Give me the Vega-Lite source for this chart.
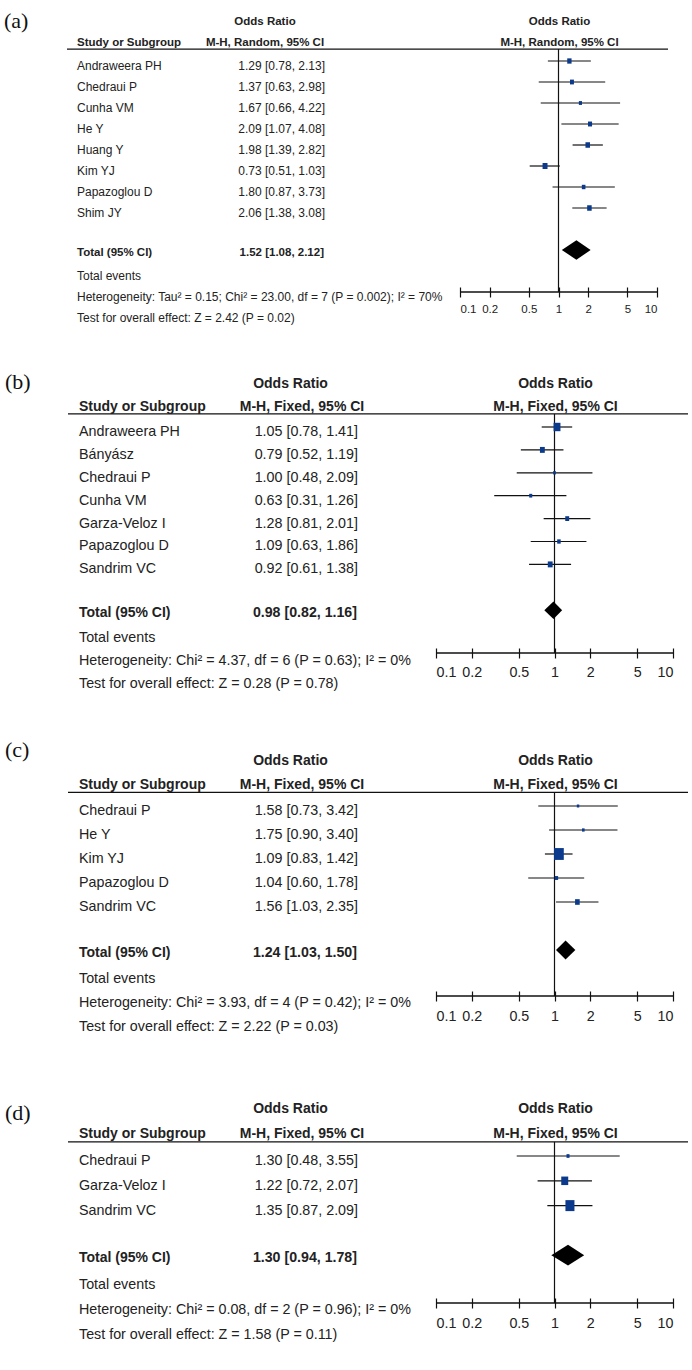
{
"$schema": "https://vega.github.io/schema/vega-lite/v6.json",
"background": "white",
"padding": 0,
"spacing": 0,
"bounds": "flush",
"config": {"view": {"stroke": null}},
"datasets": {
"a": [
{"kind":"panel","line":-2,"name":"(a)"},
{"kind":"header","line":-2,"label":"Odds Ratio","plot":"Odds Ratio"},
{"kind":"header","line":-1,"name":"Study or Subgroup","label":"M-H, Random, 95% CI","plot":"M-H, Random, 95% CI"},
{"kind":"study","line":0,"name":"Andraweera PH","or":1.29,"lo":0.78,"hi":2.13,"weight":13.5,"label":"1.29 [0.78, 2.13]"},
{"kind":"study","line":1,"name":"Chedraui P","or":1.37,"lo":0.63,"hi":2.98,"weight":11.2,"label":"1.37 [0.63, 2.98]"},
{"kind":"study","line":2,"name":"Cunha VM","or":1.67,"lo":0.66,"hi":4.22,"weight":7.1,"label":"1.67 [0.66, 4.22]"},
{"kind":"study","line":3,"name":"He Y","or":2.09,"lo":1.07,"hi":4.08,"weight":11.8,"label":"2.09 [1.07, 4.08]"},
{"kind":"study","line":4,"name":"Huang Y","or":1.98,"lo":1.39,"hi":2.82,"weight":14.7,"label":"1.98 [1.39, 2.82]"},
{"kind":"study","line":5,"name":"Kim YJ","or":0.73,"lo":0.51,"hi":1.03,"weight":17.6,"label":"0.73 [0.51, 1.03]"},
{"kind":"study","line":6,"name":"Papazoglou D","or":1.80,"lo":0.87,"hi":3.73,"weight":9.4,"label":"1.80 [0.87, 3.73]"},
{"kind":"study","line":7,"name":"Shim JY","or":2.06,"lo":1.38,"hi":3.08,"weight":14.7,"label":"2.06 [1.38, 3.08]"},
{"kind":"total","line":9,"name":"Total (95% CI)","or":1.52,"lo":1.08,"hi":2.12,"label":"1.52 [1.08, 2.12]"},
{"kind":"note","line":10,"name":"Total events"},
{"kind":"note","line":11,"name":"Heterogeneity: Tau² = 0.15; Chi² = 23.00, df = 7 (P = 0.002); I² = 70%"},
{"kind":"note","line":12,"name":"Test for overall effect: Z = 2.42 (P = 0.02)"}
],
"ad": [
{"or":1.08,"top":9,"bottom":9},
{"or":1.52,"top":8.536,"bottom":9.464},
{"or":2.12,"top":9,"bottom":9}
],
"b": [
{"kind":"panel","line":-2,"name":"(b)"},
{"kind":"header","line":-2,"label":"Odds Ratio","plot":"Odds Ratio"},
{"kind":"header","line":-1,"name":"Study or Subgroup","label":"M-H, Fixed, 95% CI","plot":"M-H, Fixed, 95% CI"},
{"kind":"study","line":0,"name":"Andraweera PH","or":1.05,"lo":0.78,"hi":1.41,"weight":34.2,"label":"1.05 [0.78, 1.41]"},
{"kind":"study","line":1,"name":"Bányász","or":0.79,"lo":0.52,"hi":1.19,"weight":16.9,"label":"0.79 [0.52, 1.19]"},
{"kind":"study","line":2,"name":"Chedraui P","or":1.00,"lo":0.48,"hi":2.09,"weight":5.3,"label":"1.00 [0.48, 2.09]"},
{"kind":"study","line":3,"name":"Cunha VM","or":0.63,"lo":0.31,"hi":1.26,"weight":6.7,"label":"0.63 [0.31, 1.26]"},
{"kind":"study","line":4,"name":"Garza-Veloz I","or":1.28,"lo":0.81,"hi":2.01,"weight":11.1,"label":"1.28 [0.81, 2.01]"},
{"kind":"study","line":5,"name":"Papazoglou D","or":1.09,"lo":0.63,"hi":1.86,"weight":8.9,"label":"1.09 [0.63, 1.86]"},
{"kind":"study","line":6,"name":"Sandrim VC","or":0.92,"lo":0.61,"hi":1.38,"weight":16.9,"label":"0.92 [0.61, 1.38]"},
{"kind":"total","line":8,"name":"Total (95% CI)","or":0.98,"lo":0.82,"hi":1.16,"label":"0.98 [0.82, 1.16]"},
{"kind":"note","line":9,"name":"Total events"},
{"kind":"note","line":10,"name":"Heterogeneity: Chi² = 4.37, df = 6 (P = 0.63); I² = 0%"},
{"kind":"note","line":11,"name":"Test for overall effect: Z = 0.28 (P = 0.78)"}
],
"bd": [
{"or":0.82,"top":8,"bottom":8},
{"or":0.98,"top":7.62,"bottom":8.38},
{"or":1.16,"top":8,"bottom":8}
],
"c": [
{"kind":"panel","line":-2,"name":"(c)"},
{"kind":"header","line":-2,"label":"Odds Ratio","plot":"Odds Ratio"},
{"kind":"header","line":-1,"name":"Study or Subgroup","label":"M-H, Fixed, 95% CI","plot":"M-H, Fixed, 95% CI"},
{"kind":"study","line":0,"name":"Chedraui P","or":1.58,"lo":0.73,"hi":3.42,"weight":4.3,"label":"1.58 [0.73, 3.42]"},
{"kind":"study","line":1,"name":"He Y","or":1.75,"lo":0.90,"hi":3.40,"weight":5.0,"label":"1.75 [0.90, 3.40]"},
{"kind":"study","line":2,"name":"Kim YJ","or":1.09,"lo":0.83,"hi":1.42,"weight":67.9,"label":"1.09 [0.83, 1.42]"},
{"kind":"study","line":3,"name":"Papazoglou D","or":1.04,"lo":0.60,"hi":1.78,"weight":7.4,"label":"1.04 [0.60, 1.78]"},
{"kind":"study","line":4,"name":"Sandrim VC","or":1.56,"lo":1.03,"hi":2.35,"weight":15.4,"label":"1.56 [1.03, 2.35]"},
{"kind":"total","line":6,"name":"Total (95% CI)","or":1.24,"lo":1.03,"hi":1.50,"label":"1.24 [1.03, 1.50]"},
{"kind":"note","line":7,"name":"Total events"},
{"kind":"note","line":8,"name":"Heterogeneity: Chi² = 3.93, df = 4 (P = 0.42); I² = 0%"},
{"kind":"note","line":9,"name":"Test for overall effect: Z = 2.22 (P = 0.03)"}
],
"cd": [
{"or":1.03,"top":6,"bottom":6},
{"or":1.24,"top":5.604,"bottom":6.396},
{"or":1.50,"top":6,"bottom":6}
],
"d": [
{"kind":"panel","line":-2,"name":"(d)"},
{"kind":"header","line":-2,"label":"Odds Ratio","plot":"Odds Ratio"},
{"kind":"header","line":-1,"name":"Study or Subgroup","label":"M-H, Fixed, 95% CI","plot":"M-H, Fixed, 95% CI"},
{"kind":"study","line":0,"name":"Chedraui P","or":1.30,"lo":0.48,"hi":3.55,"weight":6.5,"label":"1.30 [0.48, 3.55]"},
{"kind":"study","line":1,"name":"Garza-Veloz I","or":1.22,"lo":0.72,"hi":2.07,"weight":35.0,"label":"1.22 [0.72, 2.07]"},
{"kind":"study","line":2,"name":"Sandrim VC","or":1.35,"lo":0.87,"hi":2.09,"weight":58.5,"label":"1.35 [0.87, 2.09]"},
{"kind":"total","line":4,"name":"Total (95% CI)","or":1.30,"lo":0.94,"hi":1.78,"label":"1.30 [0.94, 1.78]"},
{"kind":"note","line":5,"name":"Total events"},
{"kind":"note","line":6,"name":"Heterogeneity: Chi² = 0.08, df = 2 (P = 0.96); I² = 0%"},
{"kind":"note","line":7,"name":"Test for overall effect: Z = 1.58 (P = 0.11)"}
],
"dd": [
{"or":0.94,"top":4,"bottom":4},
{"or":1.30,"top":3.583,"bottom":4.417},
{"or":1.78,"top":4,"bottom":4}
]
},
"vconcat": [
{
"width": 692, "height": 292,
"data": {"name": "a"},
"layer": [
{"transform": [{"filter": "datum.kind == 'header' && datum.line == -1"}],
 "mark": {"type": "rule", "color": "#111", "strokeWidth": 1.3},
 "encoding": {"x": {"value": 67}, "x2": {"value": 668},
  "y": {"datum": -0.57, "type": "quantitative", "scale": {"domain": [-2.905, 11], "reverse": true, "nice": false, "zero": false}, "axis": null}}},
{"transform": [{"filter": "datum.kind == 'header' && datum.line == -1"}],
 "mark": {"type": "rule", "color": "#111", "strokeWidth": 1.2},
 "encoding": {"x": {"datum": 1, "type": "quantitative", "scale": {"type": "log", "domain": [0.1, 10], "range": [460, 657], "nice": false},
   "axis": {"values": [0.1, 0.2, 0.5, 1, 2, 5, 10], "format": "~g", "title": null, "domain": false, "grid": false, "tickSize": 10, "tickWidth": 1.2, "tickColor": "#111", "offset": -5, "labelFlush": true, "labelOverlap": false, "labelFont": "Liberation Sans", "labelFontSize": 11.5, "labelColor": "#222", "labelPadding": 6}},
  "y": {"datum": -0.57, "type": "quantitative", "scale": {"domain": [-2.905, 11], "reverse": true, "nice": false, "zero": false}, "axis": null},
  "y2": {"datum": 11}}},
{"transform": [{"filter": "datum.kind == 'header' && datum.line == -1"}],
 "mark": {"type": "rule", "color": "#111", "strokeWidth": 1.3},
 "encoding": {"x": {"datum": 0.1, "type": "quantitative", "scale": {"type": "log", "domain": [0.1, 10], "range": [460, 657], "nice": false},
   "axis": {"values": [0.1, 0.2, 0.5, 1, 2, 5, 10], "format": "~g", "title": null, "domain": false, "grid": false, "tickSize": 10, "tickWidth": 1.2, "tickColor": "#111", "offset": -5, "labelFlush": true, "labelOverlap": false, "labelFont": "Liberation Sans", "labelFontSize": 11.5, "labelColor": "#222", "labelPadding": 6}},
  "x2": {"datum": 10},
  "y": {"datum": 11, "type": "quantitative", "scale": {"domain": [-2.905, 11], "reverse": true, "nice": false, "zero": false}, "axis": null}}},
{"transform": [{"filter": "datum.kind == 'study'"}],
 "mark": {"type": "rule", "color": "#111", "strokeWidth": 1.2},
 "encoding": {"x": {"field": "lo", "type": "quantitative", "scale": {"type": "log", "domain": [0.1, 10], "range": [460, 657], "nice": false},
   "axis": {"values": [0.1, 0.2, 0.5, 1, 2, 5, 10], "format": "~g", "title": null, "domain": false, "grid": false, "tickSize": 10, "tickWidth": 1.2, "tickColor": "#111", "offset": -5, "labelFlush": true, "labelOverlap": false, "labelFont": "Liberation Sans", "labelFontSize": 11.5, "labelColor": "#222", "labelPadding": 6}},
  "x2": {"field": "hi"},
  "y": {"field": "line", "type": "quantitative", "scale": {"domain": [-2.905, 11], "reverse": true, "nice": false, "zero": false}, "axis": null}}},
{"transform": [{"filter": "datum.kind == 'study'"}],
 "mark": {"type": "point", "shape": "M-0.82,-1L0.82,-1L0.82,1L-0.82,1Z", "filled": true, "color": "#0b3a8c", "opacity": 1, "strokeWidth": 0},
 "encoding": {"x": {"field": "or", "type": "quantitative", "scale": {"type": "log", "domain": [0.1, 10], "range": [460, 657], "nice": false},
   "axis": {"values": [0.1, 0.2, 0.5, 1, 2, 5, 10], "format": "~g", "title": null, "domain": false, "grid": false, "tickSize": 10, "tickWidth": 1.2, "tickColor": "#111", "offset": -5, "labelFlush": true, "labelOverlap": false, "labelFont": "Liberation Sans", "labelFontSize": 11.5, "labelColor": "#222", "labelPadding": 6}},
  "y": {"field": "line", "type": "quantitative", "scale": {"domain": [-2.905, 11], "reverse": true, "nice": false, "zero": false}, "axis": null},
  "size": {"field": "weight", "type": "quantitative", "scale": {"domain": [0, 100], "range": [0, 207]}, "legend": null}}},
{"data": {"name": "ad"},
 "mark": {"type": "area", "color": "#000", "orient": "vertical", "opacity": 1},
 "encoding": {"x": {"field": "or", "type": "quantitative", "scale": {"type": "log", "domain": [0.1, 10], "range": [460, 657], "nice": false},
   "axis": {"values": [0.1, 0.2, 0.5, 1, 2, 5, 10], "format": "~g", "title": null, "domain": false, "grid": false, "tickSize": 10, "tickWidth": 1.2, "tickColor": "#111", "offset": -5, "labelFlush": true, "labelOverlap": false, "labelFont": "Liberation Sans", "labelFontSize": 11.5, "labelColor": "#222", "labelPadding": 6}},
  "y": {"field": "top", "type": "quantitative", "scale": {"domain": [-2.905, 11], "reverse": true, "nice": false, "zero": false}, "axis": null},
  "y2": {"field": "bottom"}}},
{"transform": [{"filter": "datum.kind == 'study' || datum.kind == 'note'"}],
 "mark": {"type": "text", "align": "left", "baseline": "middle", "dy": 5, "font": "Liberation Sans", "fontSize": 12, "color": "#222"},
 "encoding": {"x": {"value": 77}, "y": {"field": "line", "type": "quantitative", "scale": {"domain": [-2.905, 11], "reverse": true, "nice": false, "zero": false}, "axis": null}, "text": {"field": "name"}}},
{"transform": [{"filter": "datum.kind == 'total' || (datum.kind == 'header' && datum.line == -1)"}],
 "mark": {"type": "text", "align": "left", "baseline": "middle", "dy": 3, "font": "Liberation Sans", "fontWeight": "bold", "fontSize": 11.5, "color": "#222"},
 "encoding": {"x": {"value": 77}, "y": {"field": "line", "type": "quantitative", "scale": {"domain": [-2.905, 11], "reverse": true, "nice": false, "zero": false}, "axis": null}, "text": {"field": "name"}}},
{"transform": [{"filter": "datum.kind == 'study'"}],
 "mark": {"type": "text", "align": "right", "baseline": "middle", "dy": 5, "font": "Liberation Sans", "fontSize": 12, "color": "#222"},
 "encoding": {"x": {"value": 325}, "y": {"field": "line", "type": "quantitative", "scale": {"domain": [-2.905, 11], "reverse": true, "nice": false, "zero": false}, "axis": null}, "text": {"field": "label"}}},
{"transform": [{"filter": "datum.kind == 'total'"}],
 "mark": {"type": "text", "align": "right", "baseline": "middle", "dy": 3, "font": "Liberation Sans", "fontWeight": "bold", "fontSize": 11.5, "color": "#222"},
 "encoding": {"x": {"value": 324}, "y": {"field": "line", "type": "quantitative", "scale": {"domain": [-2.905, 11], "reverse": true, "nice": false, "zero": false}, "axis": null}, "text": {"field": "label"}}},
{"transform": [{"filter": "datum.kind == 'header'"}],
 "mark": {"type": "text", "align": "center", "baseline": "middle", "dy": 3, "font": "Liberation Sans", "fontWeight": "bold", "fontSize": 11.5, "color": "#222"},
 "encoding": {"x": {"value": 265}, "y": {"field": "line", "type": "quantitative", "scale": {"domain": [-2.905, 11], "reverse": true, "nice": false, "zero": false}, "axis": null}, "text": {"field": "label"}}},
{"transform": [{"filter": "datum.kind == 'header'"}],
 "mark": {"type": "text", "align": "center", "baseline": "middle", "dy": 3, "dx": 1, "font": "Liberation Sans", "fontWeight": "bold", "fontSize": 11.5, "color": "#222"},
 "encoding": {"x": {"datum": 1, "type": "quantitative", "scale": {"type": "log", "domain": [0.1, 10], "range": [460, 657], "nice": false},
   "axis": {"values": [0.1, 0.2, 0.5, 1, 2, 5, 10], "format": "~g", "title": null, "domain": false, "grid": false, "tickSize": 10, "tickWidth": 1.2, "tickColor": "#111", "offset": -5, "labelFlush": true, "labelOverlap": false, "labelFont": "Liberation Sans", "labelFontSize": 11.5, "labelColor": "#222", "labelPadding": 6}},
  "y": {"field": "line", "type": "quantitative", "scale": {"domain": [-2.905, 11], "reverse": true, "nice": false, "zero": false}, "axis": null}, "text": {"field": "plot"}}},
{"transform": [{"filter": "datum.kind == 'panel'"}],
 "mark": {"type": "text", "align": "left", "baseline": "middle", "dy": 2, "font": "Liberation Serif", "fontSize": 22, "color": "#111"},
 "encoding": {"x": {"value": 4}, "y": {"field": "line", "type": "quantitative", "scale": {"domain": [-2.905, 11], "reverse": true, "nice": false, "zero": false}, "axis": null}, "text": {"field": "name"}}}
]
},
{
"width": 692, "height": 361,
"data": {"name": "b"},
"layer": [
{"transform": [{"filter": "datum.kind == 'header' && datum.line == -1"}],
 "mark": {"type": "rule", "color": "#111", "strokeWidth": 1.3},
 "encoding": {"x": {"value": 68}, "x2": {"value": 688},
  "y": {"datum": -0.57, "type": "quantitative", "scale": {"domain": [-5.895, 9.869], "reverse": true, "nice": false, "zero": false}, "axis": null}}},
{"transform": [{"filter": "datum.kind == 'header' && datum.line == -1"}],
 "mark": {"type": "rule", "color": "#111", "strokeWidth": 1.2},
 "encoding": {"x": {"datum": 1, "type": "quantitative", "scale": {"type": "log", "domain": [0.1, 10], "range": [436, 673], "nice": false},
   "axis": {"values": [0.1, 0.2, 0.5, 1, 2, 5, 10], "format": "~g", "title": null, "domain": false, "grid": false, "tickSize": 10, "tickWidth": 1.2, "tickColor": "#111", "offset": -5, "labelFlush": true, "labelOverlap": false, "labelFont": "Liberation Sans", "labelFontSize": 14.3, "labelColor": "#222", "labelPadding": 7}},
  "y": {"datum": -0.57, "type": "quantitative", "scale": {"domain": [-5.895, 9.869], "reverse": true, "nice": false, "zero": false}, "axis": null},
  "y2": {"datum": 9.869}}},
{"transform": [{"filter": "datum.kind == 'header' && datum.line == -1"}],
 "mark": {"type": "rule", "color": "#111", "strokeWidth": 1.3},
 "encoding": {"x": {"datum": 0.1, "type": "quantitative", "scale": {"type": "log", "domain": [0.1, 10], "range": [436, 673], "nice": false},
   "axis": {"values": [0.1, 0.2, 0.5, 1, 2, 5, 10], "format": "~g", "title": null, "domain": false, "grid": false, "tickSize": 10, "tickWidth": 1.2, "tickColor": "#111", "offset": -5, "labelFlush": true, "labelOverlap": false, "labelFont": "Liberation Sans", "labelFontSize": 14.3, "labelColor": "#222", "labelPadding": 7}},
  "x2": {"datum": 10},
  "y": {"datum": 9.869, "type": "quantitative", "scale": {"domain": [-5.895, 9.869], "reverse": true, "nice": false, "zero": false}, "axis": null}}},
{"transform": [{"filter": "datum.kind == 'study'"}],
 "mark": {"type": "rule", "color": "#111", "strokeWidth": 1.2},
 "encoding": {"x": {"field": "lo", "type": "quantitative", "scale": {"type": "log", "domain": [0.1, 10], "range": [436, 673], "nice": false},
   "axis": {"values": [0.1, 0.2, 0.5, 1, 2, 5, 10], "format": "~g", "title": null, "domain": false, "grid": false, "tickSize": 10, "tickWidth": 1.2, "tickColor": "#111", "offset": -5, "labelFlush": true, "labelOverlap": false, "labelFont": "Liberation Sans", "labelFontSize": 14.3, "labelColor": "#222", "labelPadding": 7}},
  "x2": {"field": "hi"},
  "y": {"field": "line", "type": "quantitative", "scale": {"domain": [-5.895, 9.869], "reverse": true, "nice": false, "zero": false}, "axis": null}}},
{"transform": [{"filter": "datum.kind == 'study'"}],
 "mark": {"type": "point", "shape": "M-0.82,-1L0.82,-1L0.82,1L-0.82,1Z", "filled": true, "color": "#0b3a8c", "opacity": 1, "strokeWidth": 0},
 "encoding": {"x": {"field": "or", "type": "quantitative", "scale": {"type": "log", "domain": [0.1, 10], "range": [436, 673], "nice": false},
   "axis": {"values": [0.1, 0.2, 0.5, 1, 2, 5, 10], "format": "~g", "title": null, "domain": false, "grid": false, "tickSize": 10, "tickWidth": 1.2, "tickColor": "#111", "offset": -5, "labelFlush": true, "labelOverlap": false, "labelFont": "Liberation Sans", "labelFontSize": 14.3, "labelColor": "#222", "labelPadding": 7}},
  "y": {"field": "line", "type": "quantitative", "scale": {"domain": [-5.895, 9.869], "reverse": true, "nice": false, "zero": false}, "axis": null},
  "size": {"field": "weight", "type": "quantitative", "scale": {"domain": [0, 100], "range": [0, 274]}, "legend": null}}},
{"data": {"name": "bd"},
 "mark": {"type": "area", "color": "#000", "orient": "vertical", "opacity": 1},
 "encoding": {"x": {"field": "or", "type": "quantitative", "scale": {"type": "log", "domain": [0.1, 10], "range": [436, 673], "nice": false},
   "axis": {"values": [0.1, 0.2, 0.5, 1, 2, 5, 10], "format": "~g", "title": null, "domain": false, "grid": false, "tickSize": 10, "tickWidth": 1.2, "tickColor": "#111", "offset": -5, "labelFlush": true, "labelOverlap": false, "labelFont": "Liberation Sans", "labelFontSize": 14.3, "labelColor": "#222", "labelPadding": 7}},
  "y": {"field": "top", "type": "quantitative", "scale": {"domain": [-5.895, 9.869], "reverse": true, "nice": false, "zero": false}, "axis": null},
  "y2": {"field": "bottom"}}},
{"transform": [{"filter": "datum.kind == 'study' || datum.kind == 'note'"}],
 "mark": {"type": "text", "align": "left", "baseline": "middle", "dy": 5, "font": "Liberation Sans", "fontSize": 14.3, "color": "#222"},
 "encoding": {"x": {"value": 79}, "y": {"field": "line", "type": "quantitative", "scale": {"domain": [-5.895, 9.869], "reverse": true, "nice": false, "zero": false}, "axis": null}, "text": {"field": "name"}}},
{"transform": [{"filter": "datum.kind == 'total' || (datum.kind == 'header' && datum.line == -1)"}],
 "mark": {"type": "text", "align": "left", "baseline": "middle", "dy": 3, "font": "Liberation Sans", "fontWeight": "bold", "fontSize": 14, "color": "#222"},
 "encoding": {"x": {"value": 79}, "y": {"field": "line", "type": "quantitative", "scale": {"domain": [-5.895, 9.869], "reverse": true, "nice": false, "zero": false}, "axis": null}, "text": {"field": "name"}}},
{"transform": [{"filter": "datum.kind == 'study'"}],
 "mark": {"type": "text", "align": "right", "baseline": "middle", "dy": 5, "font": "Liberation Sans", "fontSize": 14.3, "color": "#222"},
 "encoding": {"x": {"value": 358}, "y": {"field": "line", "type": "quantitative", "scale": {"domain": [-5.895, 9.869], "reverse": true, "nice": false, "zero": false}, "axis": null}, "text": {"field": "label"}}},
{"transform": [{"filter": "datum.kind == 'total'"}],
 "mark": {"type": "text", "align": "right", "baseline": "middle", "dy": 3, "font": "Liberation Sans", "fontWeight": "bold", "fontSize": 14.2, "color": "#222"},
 "encoding": {"x": {"value": 357}, "y": {"field": "line", "type": "quantitative", "scale": {"domain": [-5.895, 9.869], "reverse": true, "nice": false, "zero": false}, "axis": null}, "text": {"field": "label"}}},
{"transform": [{"filter": "datum.kind == 'header' && datum.line == -2"}],
 "mark": {"type": "text", "align": "center", "baseline": "middle", "dy": 3, "font": "Liberation Sans", "fontWeight": "bold", "fontSize": 14, "color": "#222"},
 "encoding": {"x": {"value": 290.5}, "y": {"field": "line", "type": "quantitative", "scale": {"domain": [-5.895, 9.869], "reverse": true, "nice": false, "zero": false}, "axis": null}, "text": {"field": "label"}}},
{"transform": [{"filter": "datum.kind == 'header' && datum.line == -1"}],
 "mark": {"type": "text", "align": "center", "baseline": "middle", "dy": 3, "font": "Liberation Sans", "fontWeight": "bold", "fontSize": 14, "color": "#222"},
 "encoding": {"x": {"value": 302}, "y": {"field": "line", "type": "quantitative", "scale": {"domain": [-5.895, 9.869], "reverse": true, "nice": false, "zero": false}, "axis": null}, "text": {"field": "label"}}},
{"transform": [{"filter": "datum.kind == 'header'"}],
 "mark": {"type": "text", "align": "center", "baseline": "middle", "dy": 3, "dx": 1, "font": "Liberation Sans", "fontWeight": "bold", "fontSize": 14, "color": "#222"},
 "encoding": {"x": {"datum": 1, "type": "quantitative", "scale": {"type": "log", "domain": [0.1, 10], "range": [436, 673], "nice": false},
   "axis": {"values": [0.1, 0.2, 0.5, 1, 2, 5, 10], "format": "~g", "title": null, "domain": false, "grid": false, "tickSize": 10, "tickWidth": 1.2, "tickColor": "#111", "offset": -5, "labelFlush": true, "labelOverlap": false, "labelFont": "Liberation Sans", "labelFontSize": 14.3, "labelColor": "#222", "labelPadding": 7}},
  "y": {"field": "line", "type": "quantitative", "scale": {"domain": [-5.895, 9.869], "reverse": true, "nice": false, "zero": false}, "axis": null}, "text": {"field": "plot"}}},
{"transform": [{"filter": "datum.kind == 'panel'"}],
 "mark": {"type": "text", "align": "left", "baseline": "middle", "dy": 1, "font": "Liberation Serif", "fontSize": 22, "color": "#111"},
 "encoding": {"x": {"value": 5}, "y": {"field": "line", "type": "quantitative", "scale": {"domain": [-5.895, 9.869], "reverse": true, "nice": false, "zero": false}, "axis": null}, "text": {"field": "name"}}}
]
},
{
"width": 692, "height": 343,
"data": {"name": "c"},
"layer": [
{"transform": [{"filter": "datum.kind == 'header' && datum.line == -1"}],
 "mark": {"type": "rule", "color": "#111", "strokeWidth": 1.3},
 "encoding": {"x": {"value": 68}, "x2": {"value": 688},
  "y": {"datum": -0.57, "type": "quantitative", "scale": {"domain": [-6.375, 7.917], "reverse": true, "nice": false, "zero": false}, "axis": null}}},
{"transform": [{"filter": "datum.kind == 'header' && datum.line == -1"}],
 "mark": {"type": "rule", "color": "#111", "strokeWidth": 1.2},
 "encoding": {"x": {"datum": 1, "type": "quantitative", "scale": {"type": "log", "domain": [0.1, 10], "range": [436, 673], "nice": false},
   "axis": {"values": [0.1, 0.2, 0.5, 1, 2, 5, 10], "format": "~g", "title": null, "domain": false, "grid": false, "tickSize": 10, "tickWidth": 1.2, "tickColor": "#111", "offset": -5, "labelFlush": true, "labelOverlap": false, "labelFont": "Liberation Sans", "labelFontSize": 14.3, "labelColor": "#222", "labelPadding": 8}},
  "y": {"datum": -0.57, "type": "quantitative", "scale": {"domain": [-6.375, 7.917], "reverse": true, "nice": false, "zero": false}, "axis": null},
  "y2": {"datum": 7.917}}},
{"transform": [{"filter": "datum.kind == 'header' && datum.line == -1"}],
 "mark": {"type": "rule", "color": "#111", "strokeWidth": 1.3},
 "encoding": {"x": {"datum": 0.1, "type": "quantitative", "scale": {"type": "log", "domain": [0.1, 10], "range": [436, 673], "nice": false},
   "axis": {"values": [0.1, 0.2, 0.5, 1, 2, 5, 10], "format": "~g", "title": null, "domain": false, "grid": false, "tickSize": 10, "tickWidth": 1.2, "tickColor": "#111", "offset": -5, "labelFlush": true, "labelOverlap": false, "labelFont": "Liberation Sans", "labelFontSize": 14.3, "labelColor": "#222", "labelPadding": 8}},
  "x2": {"datum": 10},
  "y": {"datum": 7.917, "type": "quantitative", "scale": {"domain": [-6.375, 7.917], "reverse": true, "nice": false, "zero": false}, "axis": null}}},
{"transform": [{"filter": "datum.kind == 'study'"}],
 "mark": {"type": "rule", "color": "#111", "strokeWidth": 1.2},
 "encoding": {"x": {"field": "lo", "type": "quantitative", "scale": {"type": "log", "domain": [0.1, 10], "range": [436, 673], "nice": false},
   "axis": {"values": [0.1, 0.2, 0.5, 1, 2, 5, 10], "format": "~g", "title": null, "domain": false, "grid": false, "tickSize": 10, "tickWidth": 1.2, "tickColor": "#111", "offset": -5, "labelFlush": true, "labelOverlap": false, "labelFont": "Liberation Sans", "labelFontSize": 14.3, "labelColor": "#222", "labelPadding": 8}},
  "x2": {"field": "hi"},
  "y": {"field": "line", "type": "quantitative", "scale": {"domain": [-6.375, 7.917], "reverse": true, "nice": false, "zero": false}, "axis": null}}},
{"transform": [{"filter": "datum.kind == 'study'"}],
 "mark": {"type": "point", "shape": "M-0.82,-1L0.82,-1L0.82,1L-0.82,1Z", "filled": true, "color": "#0b3a8c", "opacity": 1, "strokeWidth": 0},
 "encoding": {"x": {"field": "or", "type": "quantitative", "scale": {"type": "log", "domain": [0.1, 10], "range": [436, 673], "nice": false},
   "axis": {"values": [0.1, 0.2, 0.5, 1, 2, 5, 10], "format": "~g", "title": null, "domain": false, "grid": false, "tickSize": 10, "tickWidth": 1.2, "tickColor": "#111", "offset": -5, "labelFlush": true, "labelOverlap": false, "labelFont": "Liberation Sans", "labelFontSize": 14.3, "labelColor": "#222", "labelPadding": 8}},
  "y": {"field": "line", "type": "quantitative", "scale": {"domain": [-6.375, 7.917], "reverse": true, "nice": false, "zero": false}, "axis": null},
  "size": {"field": "weight", "type": "quantitative", "scale": {"domain": [0, 100], "range": [0, 365]}, "legend": null}}},
{"data": {"name": "cd"},
 "mark": {"type": "area", "color": "#000", "orient": "vertical", "opacity": 1},
 "encoding": {"x": {"field": "or", "type": "quantitative", "scale": {"type": "log", "domain": [0.1, 10], "range": [436, 673], "nice": false},
   "axis": {"values": [0.1, 0.2, 0.5, 1, 2, 5, 10], "format": "~g", "title": null, "domain": false, "grid": false, "tickSize": 10, "tickWidth": 1.2, "tickColor": "#111", "offset": -5, "labelFlush": true, "labelOverlap": false, "labelFont": "Liberation Sans", "labelFontSize": 14.3, "labelColor": "#222", "labelPadding": 8}},
  "y": {"field": "top", "type": "quantitative", "scale": {"domain": [-6.375, 7.917], "reverse": true, "nice": false, "zero": false}, "axis": null},
  "y2": {"field": "bottom"}}},
{"transform": [{"filter": "datum.kind == 'study' || datum.kind == 'note'"}],
 "mark": {"type": "text", "align": "left", "baseline": "middle", "dy": 5, "font": "Liberation Sans", "fontSize": 14.3, "color": "#222"},
 "encoding": {"x": {"value": 79}, "y": {"field": "line", "type": "quantitative", "scale": {"domain": [-6.375, 7.917], "reverse": true, "nice": false, "zero": false}, "axis": null}, "text": {"field": "name"}}},
{"transform": [{"filter": "datum.kind == 'total' || (datum.kind == 'header' && datum.line == -1)"}],
 "mark": {"type": "text", "align": "left", "baseline": "middle", "dy": 3, "font": "Liberation Sans", "fontWeight": "bold", "fontSize": 14, "color": "#222"},
 "encoding": {"x": {"value": 79}, "y": {"field": "line", "type": "quantitative", "scale": {"domain": [-6.375, 7.917], "reverse": true, "nice": false, "zero": false}, "axis": null}, "text": {"field": "name"}}},
{"transform": [{"filter": "datum.kind == 'study'"}],
 "mark": {"type": "text", "align": "right", "baseline": "middle", "dy": 5, "font": "Liberation Sans", "fontSize": 14.3, "color": "#222"},
 "encoding": {"x": {"value": 358}, "y": {"field": "line", "type": "quantitative", "scale": {"domain": [-6.375, 7.917], "reverse": true, "nice": false, "zero": false}, "axis": null}, "text": {"field": "label"}}},
{"transform": [{"filter": "datum.kind == 'total'"}],
 "mark": {"type": "text", "align": "right", "baseline": "middle", "dy": 3, "font": "Liberation Sans", "fontWeight": "bold", "fontSize": 14.2, "color": "#222"},
 "encoding": {"x": {"value": 357}, "y": {"field": "line", "type": "quantitative", "scale": {"domain": [-6.375, 7.917], "reverse": true, "nice": false, "zero": false}, "axis": null}, "text": {"field": "label"}}},
{"transform": [{"filter": "datum.kind == 'header' && datum.line == -2"}],
 "mark": {"type": "text", "align": "center", "baseline": "middle", "dy": 3, "font": "Liberation Sans", "fontWeight": "bold", "fontSize": 14, "color": "#222"},
 "encoding": {"x": {"value": 290.5}, "y": {"field": "line", "type": "quantitative", "scale": {"domain": [-6.375, 7.917], "reverse": true, "nice": false, "zero": false}, "axis": null}, "text": {"field": "label"}}},
{"transform": [{"filter": "datum.kind == 'header' && datum.line == -1"}],
 "mark": {"type": "text", "align": "center", "baseline": "middle", "dy": 3, "font": "Liberation Sans", "fontWeight": "bold", "fontSize": 14, "color": "#222"},
 "encoding": {"x": {"value": 302}, "y": {"field": "line", "type": "quantitative", "scale": {"domain": [-6.375, 7.917], "reverse": true, "nice": false, "zero": false}, "axis": null}, "text": {"field": "label"}}},
{"transform": [{"filter": "datum.kind == 'header'"}],
 "mark": {"type": "text", "align": "center", "baseline": "middle", "dy": 3, "dx": 1, "font": "Liberation Sans", "fontWeight": "bold", "fontSize": 14, "color": "#222"},
 "encoding": {"x": {"datum": 1, "type": "quantitative", "scale": {"type": "log", "domain": [0.1, 10], "range": [436, 673], "nice": false},
   "axis": {"values": [0.1, 0.2, 0.5, 1, 2, 5, 10], "format": "~g", "title": null, "domain": false, "grid": false, "tickSize": 10, "tickWidth": 1.2, "tickColor": "#111", "offset": -5, "labelFlush": true, "labelOverlap": false, "labelFont": "Liberation Sans", "labelFontSize": 14.3, "labelColor": "#222", "labelPadding": 8}},
  "y": {"field": "line", "type": "quantitative", "scale": {"domain": [-6.375, 7.917], "reverse": true, "nice": false, "zero": false}, "axis": null}, "text": {"field": "plot"}}},
{"transform": [{"filter": "datum.kind == 'panel'"}],
 "mark": {"type": "text", "align": "left", "baseline": "middle", "dy": -8, "font": "Liberation Serif", "fontSize": 22, "color": "#111"},
 "encoding": {"x": {"value": 5}, "y": {"field": "line", "type": "quantitative", "scale": {"domain": [-6.375, 7.917], "reverse": true, "nice": false, "zero": false}, "axis": null}, "text": {"field": "name"}}}
]
},
{
"width": 692, "height": 307,
"data": {"name": "d"},
"layer": [
{"transform": [{"filter": "datum.kind == 'header' && datum.line == -1"}],
 "mark": {"type": "rule", "color": "#111", "strokeWidth": 1.3},
 "encoding": {"x": {"value": 68}, "x2": {"value": 688},
  "y": {"datum": -0.57, "type": "quantitative", "scale": {"domain": [-6.452, 5.927], "reverse": true, "nice": false, "zero": false}, "axis": null}}},
{"transform": [{"filter": "datum.kind == 'header' && datum.line == -1"}],
 "mark": {"type": "rule", "color": "#111", "strokeWidth": 1.2},
 "encoding": {"x": {"datum": 1, "type": "quantitative", "scale": {"type": "log", "domain": [0.1, 10], "range": [436, 673], "nice": false},
   "axis": {"values": [0.1, 0.2, 0.5, 1, 2, 5, 10], "format": "~g", "title": null, "domain": false, "grid": false, "tickSize": 10, "tickWidth": 1.2, "tickColor": "#111", "offset": -5, "labelFlush": true, "labelOverlap": false, "labelFont": "Liberation Sans", "labelFontSize": 14.3, "labelColor": "#222", "labelPadding": 8}},
  "y": {"datum": -0.57, "type": "quantitative", "scale": {"domain": [-6.452, 5.927], "reverse": true, "nice": false, "zero": false}, "axis": null},
  "y2": {"datum": 5.927}}},
{"transform": [{"filter": "datum.kind == 'header' && datum.line == -1"}],
 "mark": {"type": "rule", "color": "#111", "strokeWidth": 1.3},
 "encoding": {"x": {"datum": 0.1, "type": "quantitative", "scale": {"type": "log", "domain": [0.1, 10], "range": [436, 673], "nice": false},
   "axis": {"values": [0.1, 0.2, 0.5, 1, 2, 5, 10], "format": "~g", "title": null, "domain": false, "grid": false, "tickSize": 10, "tickWidth": 1.2, "tickColor": "#111", "offset": -5, "labelFlush": true, "labelOverlap": false, "labelFont": "Liberation Sans", "labelFontSize": 14.3, "labelColor": "#222", "labelPadding": 8}},
  "x2": {"datum": 10},
  "y": {"datum": 5.927, "type": "quantitative", "scale": {"domain": [-6.452, 5.927], "reverse": true, "nice": false, "zero": false}, "axis": null}}},
{"transform": [{"filter": "datum.kind == 'study'"}],
 "mark": {"type": "rule", "color": "#111", "strokeWidth": 1.2},
 "encoding": {"x": {"field": "lo", "type": "quantitative", "scale": {"type": "log", "domain": [0.1, 10], "range": [436, 673], "nice": false},
   "axis": {"values": [0.1, 0.2, 0.5, 1, 2, 5, 10], "format": "~g", "title": null, "domain": false, "grid": false, "tickSize": 10, "tickWidth": 1.2, "tickColor": "#111", "offset": -5, "labelFlush": true, "labelOverlap": false, "labelFont": "Liberation Sans", "labelFontSize": 14.3, "labelColor": "#222", "labelPadding": 8}},
  "x2": {"field": "hi"},
  "y": {"field": "line", "type": "quantitative", "scale": {"domain": [-6.452, 5.927], "reverse": true, "nice": false, "zero": false}, "axis": null}}},
{"transform": [{"filter": "datum.kind == 'study'"}],
 "mark": {"type": "point", "shape": "M-0.82,-1L0.82,-1L0.82,1L-0.82,1Z", "filled": true, "color": "#0b3a8c", "opacity": 1, "strokeWidth": 0},
 "encoding": {"x": {"field": "or", "type": "quantitative", "scale": {"type": "log", "domain": [0.1, 10], "range": [436, 673], "nice": false},
   "axis": {"values": [0.1, 0.2, 0.5, 1, 2, 5, 10], "format": "~g", "title": null, "domain": false, "grid": false, "tickSize": 10, "tickWidth": 1.2, "tickColor": "#111", "offset": -5, "labelFlush": true, "labelOverlap": false, "labelFont": "Liberation Sans", "labelFontSize": 14.3, "labelColor": "#222", "labelPadding": 8}},
  "y": {"field": "line", "type": "quantitative", "scale": {"domain": [-6.452, 5.927], "reverse": true, "nice": false, "zero": false}, "axis": null},
  "size": {"field": "weight", "type": "quantitative", "scale": {"domain": [0, 100], "range": [0, 415]}, "legend": null}}},
{"data": {"name": "dd"},
 "mark": {"type": "area", "color": "#000", "orient": "vertical", "opacity": 1},
 "encoding": {"x": {"field": "or", "type": "quantitative", "scale": {"type": "log", "domain": [0.1, 10], "range": [436, 673], "nice": false},
   "axis": {"values": [0.1, 0.2, 0.5, 1, 2, 5, 10], "format": "~g", "title": null, "domain": false, "grid": false, "tickSize": 10, "tickWidth": 1.2, "tickColor": "#111", "offset": -5, "labelFlush": true, "labelOverlap": false, "labelFont": "Liberation Sans", "labelFontSize": 14.3, "labelColor": "#222", "labelPadding": 8}},
  "y": {"field": "top", "type": "quantitative", "scale": {"domain": [-6.452, 5.927], "reverse": true, "nice": false, "zero": false}, "axis": null},
  "y2": {"field": "bottom"}}},
{"transform": [{"filter": "datum.kind == 'study' || datum.kind == 'note'"}],
 "mark": {"type": "text", "align": "left", "baseline": "middle", "dy": 5, "font": "Liberation Sans", "fontSize": 14.3, "color": "#222"},
 "encoding": {"x": {"value": 79}, "y": {"field": "line", "type": "quantitative", "scale": {"domain": [-6.452, 5.927], "reverse": true, "nice": false, "zero": false}, "axis": null}, "text": {"field": "name"}}},
{"transform": [{"filter": "datum.kind == 'total' || (datum.kind == 'header' && datum.line == -1)"}],
 "mark": {"type": "text", "align": "left", "baseline": "middle", "dy": 3, "font": "Liberation Sans", "fontWeight": "bold", "fontSize": 14, "color": "#222"},
 "encoding": {"x": {"value": 79}, "y": {"field": "line", "type": "quantitative", "scale": {"domain": [-6.452, 5.927], "reverse": true, "nice": false, "zero": false}, "axis": null}, "text": {"field": "name"}}},
{"transform": [{"filter": "datum.kind == 'study'"}],
 "mark": {"type": "text", "align": "right", "baseline": "middle", "dy": 5, "font": "Liberation Sans", "fontSize": 14.3, "color": "#222"},
 "encoding": {"x": {"value": 358}, "y": {"field": "line", "type": "quantitative", "scale": {"domain": [-6.452, 5.927], "reverse": true, "nice": false, "zero": false}, "axis": null}, "text": {"field": "label"}}},
{"transform": [{"filter": "datum.kind == 'total'"}],
 "mark": {"type": "text", "align": "right", "baseline": "middle", "dy": 3, "font": "Liberation Sans", "fontWeight": "bold", "fontSize": 14.2, "color": "#222"},
 "encoding": {"x": {"value": 357}, "y": {"field": "line", "type": "quantitative", "scale": {"domain": [-6.452, 5.927], "reverse": true, "nice": false, "zero": false}, "axis": null}, "text": {"field": "label"}}},
{"transform": [{"filter": "datum.kind == 'header' && datum.line == -2"}],
 "mark": {"type": "text", "align": "center", "baseline": "middle", "dy": 3, "font": "Liberation Sans", "fontWeight": "bold", "fontSize": 14, "color": "#222"},
 "encoding": {"x": {"value": 290.5}, "y": {"field": "line", "type": "quantitative", "scale": {"domain": [-6.452, 5.927], "reverse": true, "nice": false, "zero": false}, "axis": null}, "text": {"field": "label"}}},
{"transform": [{"filter": "datum.kind == 'header' && datum.line == -1"}],
 "mark": {"type": "text", "align": "center", "baseline": "middle", "dy": 3, "font": "Liberation Sans", "fontWeight": "bold", "fontSize": 14, "color": "#222"},
 "encoding": {"x": {"value": 302}, "y": {"field": "line", "type": "quantitative", "scale": {"domain": [-6.452, 5.927], "reverse": true, "nice": false, "zero": false}, "axis": null}, "text": {"field": "label"}}},
{"transform": [{"filter": "datum.kind == 'header'"}],
 "mark": {"type": "text", "align": "center", "baseline": "middle", "dy": 3, "dx": 1, "font": "Liberation Sans", "fontWeight": "bold", "fontSize": 14, "color": "#222"},
 "encoding": {"x": {"datum": 1, "type": "quantitative", "scale": {"type": "log", "domain": [0.1, 10], "range": [436, 673], "nice": false},
   "axis": {"values": [0.1, 0.2, 0.5, 1, 2, 5, 10], "format": "~g", "title": null, "domain": false, "grid": false, "tickSize": 10, "tickWidth": 1.2, "tickColor": "#111", "offset": -5, "labelFlush": true, "labelOverlap": false, "labelFont": "Liberation Sans", "labelFontSize": 14.3, "labelColor": "#222", "labelPadding": 8}},
  "y": {"field": "line", "type": "quantitative", "scale": {"domain": [-6.452, 5.927], "reverse": true, "nice": false, "zero": false}, "axis": null}, "text": {"field": "plot"}}},
{"transform": [{"filter": "datum.kind == 'panel'"}],
 "mark": {"type": "text", "align": "left", "baseline": "middle", "dy": 7, "font": "Liberation Serif", "fontSize": 22, "color": "#111"},
 "encoding": {"x": {"value": 5}, "y": {"field": "line", "type": "quantitative", "scale": {"domain": [-6.452, 5.927], "reverse": true, "nice": false, "zero": false}, "axis": null}, "text": {"field": "name"}}}
]
}
]
}
